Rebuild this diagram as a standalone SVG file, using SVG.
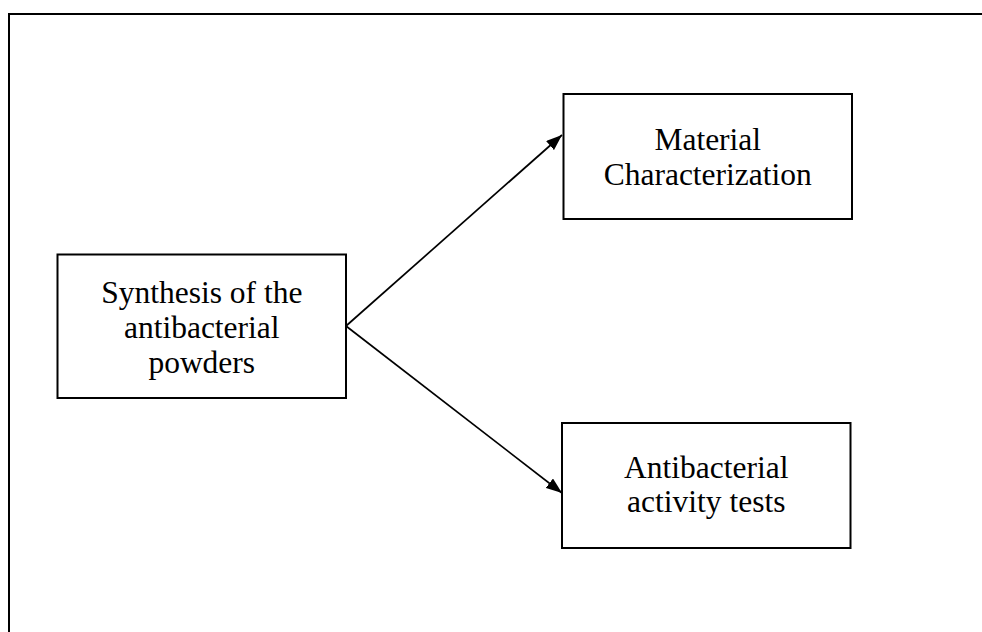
<svg xmlns="http://www.w3.org/2000/svg" width="982" height="632" viewBox="0 0 982 632">
<style>
.box{fill:#fff;stroke:#000;stroke-width:2}
.lbl{font-family:"Liberation Serif","Times New Roman",serif;font-size:31.5px;fill:#000;text-anchor:middle}
.con{stroke:#000;stroke-width:1.7;fill:none}
</style>
<defs>
<marker id="ah" viewBox="0 0 16 12" refX="16" refY="6" markerWidth="16" markerHeight="12" markerUnits="userSpaceOnUse" orient="auto">
<path d="M0,0 L16,6 L0,12 z" fill="#000"/>
</marker>
</defs>
<rect x="0" y="0" width="982" height="632" fill="#fff"/>
<rect x="9" y="14" width="1000" height="700" fill="none" stroke="#000" stroke-width="2"/>
<g id="connectors">
<line class="con" x1="346" y1="326" x2="562" y2="135" marker-end="url(#ah)"/>
<line class="con" x1="346" y1="326" x2="562" y2="493" marker-end="url(#ah)"/>
</g>
<g id="synthesis">
<rect class="box" x="57.5" y="254.5" width="288.5" height="143.5"/>
<text class="lbl" x="201.75" y="303">Synthesis of the</text>
<text class="lbl" x="201.75" y="338">antibacterial</text>
<text class="lbl" x="201.75" y="373">powders</text>
</g>
<g id="characterization">
<rect class="box" x="563.5" y="94" width="288.5" height="125"/>
<text class="lbl" x="707.75" y="150">Material</text>
<text class="lbl" x="707.75" y="185">Characterization</text>
</g>
<g id="activity">
<rect class="box" x="562" y="423" width="288.5" height="125"/>
<text class="lbl" x="706.25" y="478">Antibacterial</text>
<text class="lbl" x="706.25" y="512">activity tests</text>
</g>
</svg>
